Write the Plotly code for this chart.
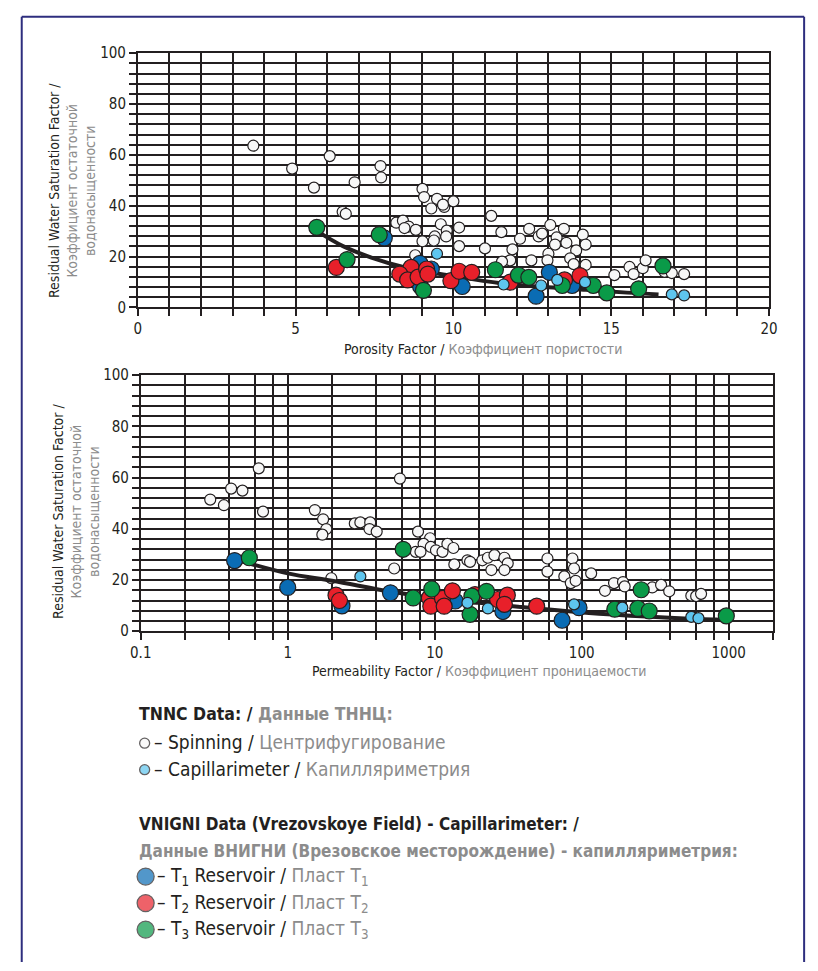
import math
import plotly.graph_objects as go

W, H = 818, 971
FONT = "Liberation Sans Narrow, Arial Narrow, DejaVu Sans Condensed, Roboto, sans-serif"
INK = "#231f20"
GRAY = "#8c8c8c"

# ---------------- Porosity chart (top) ----------------
por_spin_x = [3.66, 4.89, 6.08, 5.58, 6.87, 6.49, 6.59, 7.69, 7.71,
              9.02, 9.07, 9.48, 9.71, 10.0, 9.30, 9.67,
              8.19, 8.40, 8.58, 8.81, 8.45, 9.60, 9.79, 9.77, 9.41, 9.38, 9.02,
              10.18, 10.18, 11.0, 11.2, 8.79,
              11.52, 12.11, 12.4, 12.7, 13.07, 12.81, 13.27, 13.5, 13.58, 13.22,
              13.01, 12.98, 12.47, 14.1, 14.19, 13.89, 13.7, 13.81, 14.19,
              11.87, 11.8, 11.54, 15.1, 15.58, 15.71, 16.0, 16.09, 16.69, 16.92, 17.31]
por_spin_y = [63.6, 54.6, 59.5, 47.1, 49.2, 37.6, 36.8, 55.6, 51.1,
              46.6, 43.4, 42.7, 39.5, 41.7, 38.9, 40.4,
              33.3, 34.1, 31.8, 30.5, 31.2, 32.7, 30.2, 27.9, 27.9, 26.3, 26.0,
              31.4, 24.1, 23.2, 36.0, 20.5,
              29.6, 27.0, 30.9, 27.9, 32.4, 29.0, 27.5, 30.9, 25.4, 24.7,
              21.1, 18.5, 18.5, 28.6, 24.7, 22.4, 19.3, 17.0, 16.7,
              22.8, 18.5, 18.0, 12.7, 15.9, 13.1, 15.4, 18.5, 14.0, 13.5, 13.1]

por_cap_x = [9.48, 11.59, 12.78, 13.29, 14.17, 16.92, 17.31]
por_cap_y = [21.1, 9.0, 8.6, 10.8, 9.9, 5.1, 4.7]

por_t1_x = [7.81, 8.94, 9.30, 8.96, 10.28, 13.04, 12.62, 13.76]
por_t1_y = [27.3, 17.3, 15.1, 8.2, 8.2, 13.8, 4.4, 8.6]

por_t2_x = [6.29, 8.66, 8.30, 8.55, 8.88, 9.15, 9.19, 9.92, 10.18, 10.58, 11.8, 13.52, 14.01]
por_t2_y = [15.7, 15.7, 13.1, 10.8, 11.9, 15.1, 13.1, 10.5, 14.2, 13.8, 9.9, 10.8, 12.5]

por_t3_x = [5.67, 7.65, 6.63, 9.05, 11.33, 12.06, 12.39, 13.45, 14.43, 14.86, 15.87, 16.64]
por_t3_y = [31.5, 28.6, 18.8, 6.7, 14.8, 12.7, 11.8, 8.6, 8.6, 5.7, 7.3, 16.3]

por_trend_x = [5.67, 6.5, 7.4, 8.5, 10.0, 11.5, 13.0, 14.2, 15.5, 16.5]
por_trend_y = [30.1, 24.1, 19.6, 15.6, 12.3, 9.5, 7.9, 6.9, 5.8, 5.1]

# ---------------- Permeability chart (bottom) ----------------
perm_spin_x = [0.297, 0.368, 0.412, 0.492, 0.635, 0.679, 1.53, 1.74, 1.83, 1.72,
               2.86, 3.12, 3.64, 3.60, 4.03, 1.98, 5.3, 5.8,
               7.7, 9.3, 8.4, 9.4, 10.2, 11.3, 12.2, 13.4, 7.43, 8.0,
               13.6, 16.7, 17.4, 21.1, 23.0, 25.5, 24.3, 29.8, 31.4, 29.8,
               58.5, 58.5, 86.5, 88.7, 76.2, 84.3, 91.0, 116, 144, 166, 191, 196,
               302, 347, 394, 557, 601, 649]
perm_spin_y = [51.4, 49.2, 55.7, 54.9, 63.6, 46.7, 47.3, 43.7, 39.9, 37.7,
               42.1, 42.5, 42.5, 39.9, 38.9, 20.7, 24.5, 59.6,
               38.9, 36.3, 34.1, 32.9, 31.6, 31.0, 34.1, 32.5, 31.0, 31.0,
               26.1, 27.7, 27.1, 27.7, 28.7, 29.7, 23.9, 28.7, 26.5, 23.9,
               28.4, 23.3, 28.4, 24.5, 21.4, 18.8, 19.7, 22.6, 15.8, 18.8, 19.2, 17.5,
               17.1, 18.1, 15.6, 13.9, 13.7, 14.6]

perm_cap_x = [3.12, 16.7, 23.0, 88.7, 189, 557, 623]
perm_cap_y = [21.4, 11.1, 8.9, 10.5, 9.2, 5.6, 5.1]

perm_t1_x = [0.435, 1.0, 2.34, 5.0, 13.8, 29.1, 73.6, 95.9]
perm_t1_y = [27.6, 17.1, 9.9, 15.0, 11.8, 7.7, 4.3, 9.2]

perm_t2_x = [2.13, 2.25, 9.2, 9.4, 11.3, 11.6, 13.2, 18.8, 26.8, 31.2, 29.8, 49.4]
perm_t2_y = [14.1, 12.0, 13.0, 9.8, 12.8, 9.8, 15.8, 14.3, 12.4, 14.1, 10.5, 9.8]

perm_t3_x = [0.548, 6.1, 7.14, 9.55, 17.4, 17.9, 22.5, 168, 254, 241, 288, 964]
perm_t3_y = [28.7, 32.0, 13.0, 16.5, 6.6, 13.7, 15.6, 8.6, 16.2, 8.9, 7.9, 6.0]

perm_trend_x = [0.44, 1.0, 2.0, 4.9, 9.4, 20, 37, 170, 500, 970]
perm_trend_y = [28.0, 22.6, 19.7, 15.6, 13.0, 11.1, 9.6, 6.4, 5.0, 4.5]

# ---------------- Axis ticks ----------------
por_ticks = list(range(0, 21))
por_labels = [str(v) if v % 5 == 0 else "" for v in por_ticks]
perm_ticks = [0.1, 0.2, 0.4, 0.6, 0.8, 1, 2, 4, 6, 8, 10, 20, 40, 60, 80,
              100, 200, 400, 600, 800, 1000, 2000]
perm_labels = ["0.1", "", "", "", "", "1", "", "", "", "", "10", "", "", "", "",
               "100", "", "", "", "", "1000", ""]
swr_ticks = list(range(0, 101, 4))
swr_labels = [str(v) if v % 20 == 0 else "" for v in swr_ticks]

COLORS = {
    "spin": "#f7f7f7",
    "cap": "#5ec5ee",
    "t1": "#0a6cb4",
    "t2": "#e8202a",
    "t3": "#0a9a48",
}


def px(x):
    """Pixel x -> paper fraction."""
    return x / W


def py(y):
    """Pixel y (from top) -> paper fraction."""
    return 1 - y / H


fig = go.Figure()


def add_panel(xa, ya, spin, cap, t1, t2, t3, trend):
    def pts(xy, color, size):
        fig.add_trace(go.Scatter(
            x=xy[0], y=xy[1], mode="markers", xaxis=xa, yaxis=ya,
            marker=dict(size=size, color=color, line=dict(color=INK, width=1.2)),
            showlegend=False, hoverinfo="x+y"))
    pts(spin, COLORS["spin"], 11)
    fig.add_trace(go.Scatter(
        x=trend[0], y=trend[1], mode="lines", xaxis=xa, yaxis=ya,
        line=dict(color=INK, width=4, shape="spline"), showlegend=False,
        hoverinfo="skip"))
    pts(t1, COLORS["t1"], 16)
    pts(t2, COLORS["t2"], 16)
    pts(t3, COLORS["t3"], 16)
    pts(cap, COLORS["cap"], 11)


add_panel("x", "y", (por_spin_x, por_spin_y), (por_cap_x, por_cap_y),
          (por_t1_x, por_t1_y), (por_t2_x, por_t2_y), (por_t3_x, por_t3_y),
          (por_trend_x, por_trend_y))
add_panel("x2", "y2", (perm_spin_x, perm_spin_y), (perm_cap_x, perm_cap_y),
          (perm_t1_x, perm_t1_y), (perm_t2_x, perm_t2_y), (perm_t3_x, perm_t3_y),
          (perm_trend_x, perm_trend_y))

# Legend symbols on a paper-space overlay axis
leg_sym_x = [137, 137, 138, 138, 138]
leg_sym_y = [748, 775, 884, 911, 938]
leg_sym_c = [COLORS["spin"], COLORS["cap"], COLORS["t1"], COLORS["t2"], COLORS["t3"]]
leg_sym_s = [10, 10, 17, 17, 17]
fig.add_trace(go.Scatter(
    x=[px(v) for v in leg_sym_x], y=[py(v) for v in leg_sym_y],
    mode="markers", xaxis="x3", yaxis="y3",
    marker=dict(size=leg_sym_s, color=leg_sym_c, line=dict(color=INK, width=1.3)),
    showlegend=False, hoverinfo="skip"))

axis_common = dict(
    showgrid=True, gridcolor=INK, gridwidth=1.7,
    ticks="outside", ticklen=7, tickwidth=1.7, tickcolor=INK,
    showline=True, mirror=True, linecolor=INK, linewidth=1.7,
    zeroline=False, tickfont=dict(family=FONT, size=15, color=INK),
    fixedrange=True,
)

fig.update_layout(
    width=W, height=H,
    margin=dict(l=0, r=0, t=0, b=0),
    paper_bgcolor="white", plot_bgcolor="rgba(0,0,0,0)",
    font=dict(family=FONT, color=INK),
    showlegend=False,
    xaxis=dict(domain=[px(130), px(777)], range=[0, 20], tickmode="array",
               tickvals=por_ticks, ticktext=por_labels, anchor="y", **axis_common),
    yaxis=dict(domain=[py(304), py(45)], range=[0, 100], tickmode="array",
               tickvals=swr_ticks, ticktext=swr_labels, anchor="x", **axis_common),
    xaxis2=dict(domain=[px(133), px(781)], type="log",
                range=[-1, math.log10(2000)], tickmode="array",
                tickvals=perm_ticks, ticktext=perm_labels, anchor="y2", **axis_common),
    yaxis2=dict(domain=[py(634), py(373)], range=[0, 100], tickmode="array",
                tickvals=swr_ticks, ticktext=swr_labels, anchor="x2", **axis_common),
    xaxis3=dict(domain=[0, 1], range=[0, 1], visible=False, anchor="y3", fixedrange=True),
    yaxis3=dict(domain=[0, 1], range=[0, 1], visible=False, anchor="x3", fixedrange=True),
)

ann = []


def text(x, y, s, size, xanchor="left", angle=0):
    ann.append(dict(x=px(x), y=py(y), xref="paper", yref="paper", text=s,
                    showarrow=False, xanchor=xanchor, yanchor="middle",
                    textangle=angle, align="center",
                    font=dict(family=FONT, size=size, color=INK)))


def g(s):
    return f"<span style='color:{GRAY}'>{s}</span>"


ytitle = ("Residual Water Saturation Factor /<br>" + g("Коэффициент остаточной")
          + "<br>" + g("водонасыщенности"))
text(62, 185, ytitle, 14, "center", -90)
text(66, 512, ytitle, 14, "center", -90)
text(484, 346, "Porosity Factor / " + g("Коэффициент пористости"), 14, "center")
text(480, 674, "Permeability Factor / " + g("Коэффициент проницаемости"), 14, "center")

text(129, 718, "<b>TNNC Data: / </b>" + "<b>" + g("Данные ТННЦ:") + "</b>", 17.5)
text(145, 747, "– Spinning / " + g("Центрифугирование"), 19)
text(145, 774, "– Capillarimeter / " + g("Капилляриметрия"), 19)
text(129, 830, "<b>VNIGNI Data (Vrezovskoye Field) - Capillarimeter: /</b>", 17)
text(129, 858, "<b>" + g("Данные ВНИГНИ (Врезовское месторождение) - капилляриметрия:") + "</b>", 17)
for i, yy in enumerate([884, 911, 938], start=1):
    text(148, yy, f"– T<sub>{i}</sub> Reservoir / " + g(f"Пласт T<sub>{i}</sub>"), 19)

fig.update_layout(annotations=ann)

# Page frame
frame = "#2e2e7e"
fig.update_layout(shapes=[
    dict(type="line", xref="paper", yref="paper", x0=px(11), x1=px(813),
         y0=py(8), y1=py(8), line=dict(color=frame, width=2)),
    dict(type="line", xref="paper", yref="paper", x0=px(11), x1=px(11),
         y0=py(8), y1=0, line=dict(color=frame, width=2)),
    dict(type="line", xref="paper", yref="paper", x0=px(813), x1=px(813),
         y0=py(8), y1=0, line=dict(color=frame, width=2)),
])

# Pin the figure to the page corner so it fills the window exactly.
fig.write_html(
    "out.html",
    post_script="document.body.style.margin='0';document.body.style.overflow='hidden';",
)
